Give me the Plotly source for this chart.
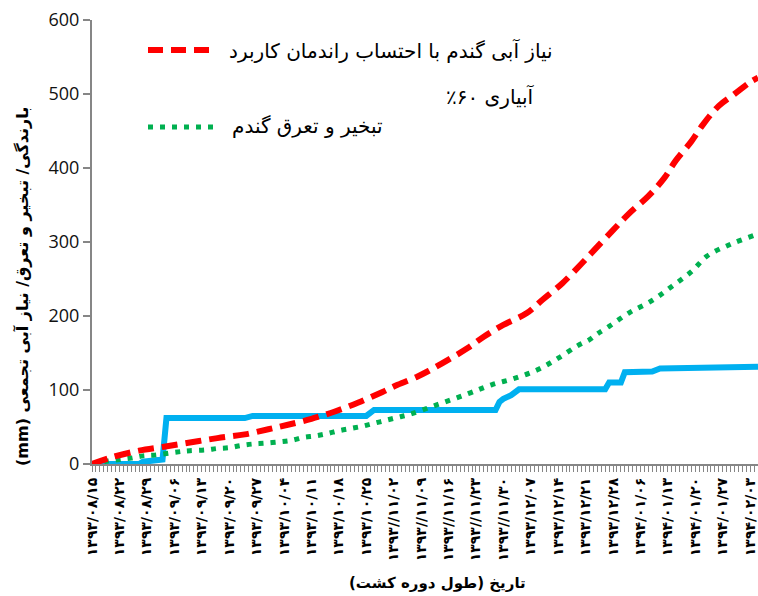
import plotly.graph_objects as go

# ---------------- data ----------------
FA = str.maketrans("0123456789", "۰۱۲۳۴۵۶۷۸۹")

week_dates = ["1393/08/15", "1393/08/22", "1393/08/29", "1393/09/06", "1393/09/13",
              "1393/09/20", "1393/09/27", "1393/10/04", "1393/10/11", "1393/10/18",
              "1393/10/25", "1393//11/02", "1393//11/09", "1393//11/16", "1393//11/23",
              "1393//11/30", "1393/12/07", "1393/12/14", "1393/12/21", "1393/12/28",
              "1394/01/06", "1394/01/13", "1394/01/20", "1394/01/27", "1394/02/03"]
n_days = 171

# cumulative crop water requirement (60% irrigation efficiency)
red_days = [0, 5, 12, 18, 25, 32, 39, 45, 50, 56, 62, 68, 74, 78, 83, 86, 91, 96, 100,
            105, 111, 115, 120, 125, 128, 133, 137, 142, 146, 149, 153, 156, 160, 164, 168, 170]
red_vals = [0, 9, 18, 23, 29, 35, 40, 47, 53, 61, 71, 83, 97, 107, 118, 126, 141, 157, 172,
            188, 204, 222, 244, 271, 288, 316, 338, 362, 386, 410, 436, 459, 484, 500, 516, 522]

# cumulative wheat evapotranspiration
green_days = [0, 4, 7, 10, 13, 16, 20, 23, 25, 29, 32, 35, 38, 41, 44, 48, 51, 54, 57, 60,
              63, 66, 69, 72, 75, 78, 81, 87, 96, 102, 108, 114, 119, 124, 127, 129, 132,
              137, 143, 148, 153, 157, 163, 169, 170]
green_vals = [0, 4, 6, 8, 11, 12, 15, 17, 18, 19, 21, 22, 25, 27, 28, 30, 32, 36, 38, 41,
              45, 48, 51, 55, 59, 63, 67, 78, 95, 107, 116, 128, 143, 160, 168, 176, 186,
              204, 221, 240, 260, 281, 297, 309, 311]

# cumulative rainfall
blue_days = [0, 12, 13, 17, 18, 19, 39, 41, 70, 72, 103, 104, 105, 107, 109, 131, 132,
             135, 136, 143, 145, 170]
blue_vals = [0, 0, 3, 4, 6, 62, 62, 65, 65, 73, 73, 84, 88, 93, 101, 101, 110, 110,
             124, 125, 129, 131.5]

legend_red = "نیاز آبی گندم با احتساب راندمان کاربرد"
legend_red2 = "آبیاری ۶۰٪"
legend_green = "تبخیر و تعرق گندم"
x_title = "تاریخ (طول دوره کشت)"
y_title = "بارندگی/ تبخیر و تعرق/ نیاز آبی تجمعی (mm)"

RLE, PDF = "\u202b", "\u202c"

# ---------------- figure ----------------
tickvals = list(range(n_days))
ticktext = []
for d in tickvals:
    if d % 7 == 0 and d // 7 < len(week_dates):
        ticktext.append(week_dates[d // 7].translate(FA))
    else:
        ticktext.append("")

fig = go.Figure()
fig.add_trace(go.Scatter(x=blue_days, y=blue_vals, mode="lines",
                         line=dict(color="#00B0F0", width=6), showlegend=False))
fig.add_trace(go.Scatter(x=green_days, y=green_vals, mode="lines",
                         line=dict(color="#00B050", width=5, dash="5px,7px", shape="spline"),
                         showlegend=False))
fig.add_trace(go.Scatter(x=red_days, y=red_vals, mode="lines",
                         line=dict(color="#FF0000", width=6, dash="16px,8px", shape="spline"),
                         showlegend=False))

L, R, T, B = 92, 0, 20, 132
W, H = 758, 596
pw, ph = W - L - R, H - T - B


def px(x):
    return (x - L) / pw


def py(y):
    return (H - B - y) / ph


fa_font = "DejaVu Sans"

# manual legend
fig.add_shape(type="line", xref="paper", yref="paper", x0=px(148), x1=px(210),
              y0=py(50), y1=py(50), line=dict(color="#FF0000", width=6, dash="15px,8px"))
fig.add_shape(type="line", xref="paper", yref="paper", x0=px(148), x1=px(213),
              y0=py(127), y1=py(127), line=dict(color="#00B050", width=5, dash="5px,7px"))
fig.add_annotation(xref="paper", yref="paper", x=px(227), y=py(51), xanchor="left",
                   yanchor="middle", text=RLE + legend_red + PDF, showarrow=False,
                   font=dict(family=fa_font, size=20, color="#000"))
fig.add_annotation(xref="paper", yref="paper", x=px(537), y=py(96), xanchor="right",
                   yanchor="middle", text=RLE + legend_red2 + PDF, showarrow=False,
                   font=dict(family=fa_font, size=20, color="#000"))
fig.add_annotation(xref="paper", yref="paper", x=px(230), y=py(126), xanchor="left",
                   yanchor="middle", text=RLE + legend_green + PDF, showarrow=False,
                   font=dict(family=fa_font, size=20, color="#000"))

# axis titles
fig.add_annotation(xref="paper", yref="paper", x=px(437), y=py(583), xanchor="center",
                   yanchor="middle", text=RLE + x_title + PDF, showarrow=False,
                   font=dict(family=fa_font, size=15, color="#000", weight="bold"))
fig.add_annotation(xref="paper", yref="paper", x=px(22), y=py(287), xanchor="center",
                   yanchor="middle", text=RLE + y_title + PDF, showarrow=False, textangle=-90,
                   font=dict(family=fa_font, size=16, color="#000", weight="bold"))

fig.update_layout(
    width=W, height=H,
    margin=dict(l=L, r=R, t=T, b=B, autoexpand=False),
    paper_bgcolor="white", plot_bgcolor="white",
    xaxis=dict(range=[0, 170], tickmode="array", tickvals=tickvals, ticktext=ticktext,
               tickangle=-90, showgrid=False, zeroline=False, showline=True,
               linecolor="#868686", linewidth=2, ticks="outside", ticklen=6,
               tickwidth=1, tickcolor="#868686", automargin=False,
               tickfont=dict(family=fa_font, size=14, color="#000", weight="bold")),
    yaxis=dict(range=[0, 600], dtick=100, tick0=0, showgrid=False, zeroline=False,
               showline=True, linecolor="#868686", linewidth=2, ticks="outside",
               ticklen=7, tickwidth=2, tickcolor="#868686", automargin=False,
               tickfont=dict(family="Open Sans", size=18, color="#111")),
)

fig.write_html("out.html", config={"displayModeBar": False},
               post_script="document.body.style.margin='0';document.body.style.overflow='hidden';")
